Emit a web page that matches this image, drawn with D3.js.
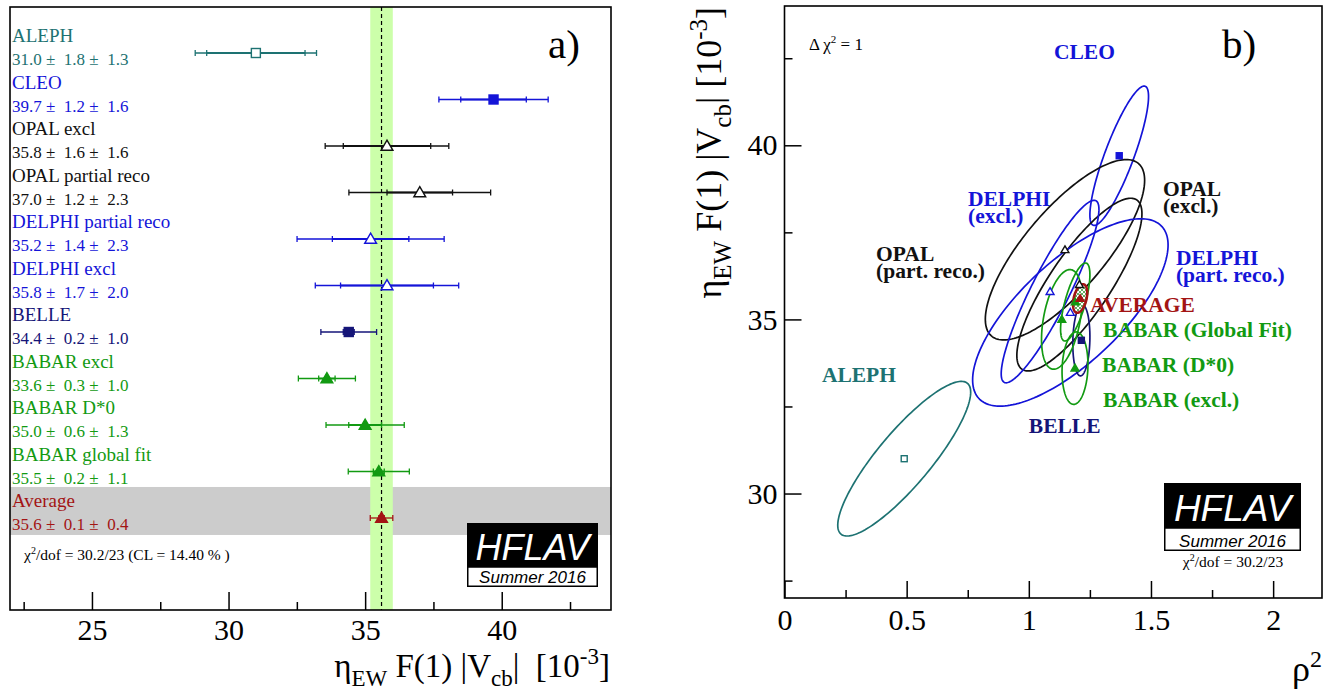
<!DOCTYPE html>
<html><head><meta charset="utf-8">
<script src="https://cdn.jsdelivr.net/npm/d3@7"></script>
<style>
html,body{margin:0;padding:0;background:#fff;}
svg{display:block;}
text{font-family:"Liberation Serif","Times New Roman",serif;white-space:pre;}
</style></head><body>
<svg id="chart" width="1337" height="698"></svg>
<script>
// ---------------- data: panel a ----------------
const expNames   = ["ALEPH","CLEO","OPAL excl","OPAL partial reco","DELPHI partial reco","DELPHI excl","BELLE","BABAR excl","BABAR D*0","BABAR global fit","Average"];
const vcbValues  = [31.0, 39.7, 35.8, 37.0, 35.2, 35.8, 34.4, 33.6, 35.0, 35.5, 35.6];
const statErrors = [1.8, 1.2, 1.6, 1.2, 1.4, 1.7, 0.2, 0.3, 0.6, 0.2, 0.1];
const systErrors = [1.3, 1.6, 1.6, 2.3, 2.3, 2.0, 1.0, 1.0, 1.3, 1.1, 0.4];
const vcbAxisRange = [22, 44];
const vcbTickValues = [25, 30, 35, 40];
const vcbTickLabels = ["25", "30", "35", "40"];
const vcbMinorTicks = [22.5, 27.5, 32.5, 37.5, 42.5];

// ---------------- data: panel b ----------------
const ellipseNames = ["ALEPH","CLEO","OPAL (part. reco.)","OPAL (excl.)","DELPHI (excl.)","DELPHI (part. reco.)","BELLE","BABAR (Global Fit)","BABAR (D*0)","BABAR (excl.)","AVERAGE"];
const rho2Centers  = [0.49, 1.37, 1.148, 1.207, 1.087, 1.17, 1.215, 1.19, 1.135, 1.189, 1.21];
const vcbCenters   = [31.0, 39.7, 37.0, 36.0, 35.8, 35.2, 34.4, 35.5, 35.0, 33.6, 35.6];
const rho2Sigmas   = [0.272, 0.12, 0.326, 0.256, 0.20, 0.40, 0.035, 0.06, 0.083, 0.053, 0.029];
const vcbSigmas    = [2.22, 2.0, 2.59, 2.48, 2.62, 2.69, 1.02, 1.12, 1.43, 1.04, 0.41];
const correlations = [0.86, 0.85, 0.77, 0.82, 0.90, 0.72, 0.10, 0.70, 0.40, 0.10, 0.40];
const rho2AxisRange = [0, 2.2];
const vcbAxisRangeB = [27, 44];
const rho2TickValues = [0, 0.5, 1, 1.5, 2];
const rho2TickLabels = ["0", "0.5", "1", "1.5", "2"];
const rho2MinorTicks = [0.25, 0.75, 1.25, 1.75];
const vcbTickValuesB = [30, 35, 40];
const vcbTickLabelsB = ["30", "35", "40"];
const vcbMinorTicksB = [27.5, 32.5, 37.5, 42.5];

// ---------------- styles / layout ----------------
const COL = {teal:"#1d7272", blue:"#1414d8", black:"#111111", navy:"#151578", green:"#129a12", red:"#a31414"};
function colorOf(name){
  const n = name.toUpperCase();
  if (n.startsWith("ALEPH")) return COL.teal;
  if (n.startsWith("CLEO") || n.startsWith("DELPHI")) return COL.blue;
  if (n.startsWith("OPAL")) return COL.black;
  if (n.startsWith("BELLE")) return COL.navy;
  if (n.startsWith("BABAR")) return COL.green;
  return COL.red;
}
const markerStyleA = {
  "ALEPH":"openSquare","CLEO":"square","OPAL excl":"openTri","OPAL partial reco":"openTri",
  "DELPHI partial reco":"openTri","DELPHI excl":"openTri","BELLE":"square","BABAR excl":"tri",
  "BABAR D*0":"tri","BABAR global fit":"tri","Average":"tri"
};
const markerStyleB = {
  "ALEPH":"openSquare","CLEO":"square","OPAL (part. reco.)":"openTri","OPAL (excl.)":"openTri",
  "DELPHI (excl.)":"openTri","DELPHI (part. reco.)":"openTri","BELLE":"square",
  "BABAR (Global Fit)":"tri","BABAR (D*0)":"tri","BABAR (excl.)":"tri","AVERAGE":"tri"
};
// label anchor positions in panel-b data coordinates [rho2, vcb]
const labelLayoutB = {
  "CLEO":[1.103,42.49], "DELPHI (excl.)":[0.751,38.27], "OPAL (excl.)":[1.549,38.55],
  "OPAL (part. reco.)":[0.375,36.69], "DELPHI (part. reco.)":[1.602,36.57],
  "AVERAGE":[1.251,35.22], "BABAR (Global Fit)":[1.304,34.50], "BABAR (D*0)":[1.300,33.49],
  "BABAR (excl.)":[1.304,32.49], "BELLE":[1.000,31.74], "ALEPH":[0.153,33.21]
};
const twoLine = {"DELPHI (excl.)":["DELPHI","(excl.)"], "OPAL (excl.)":["OPAL","(excl.)"],
  "OPAL (part. reco.)":["OPAL","(part. reco.)"], "DELPHI (part. reco.)":["DELPHI","(part. reco.)"]};

const svg = d3.select("#chart");
svg.append("rect").attr("width",1337).attr("height",698).attr("fill","#fff");
const defs = svg.append("defs");
const pat = defs.append("pattern").attr("id","avgHatch").attr("patternUnits","userSpaceOnUse")
  .attr("width",4).attr("height",4);
pat.append("rect").attr("width",4).attr("height",4).attr("fill","#ffffff");
pat.append("path").attr("d","M0,4 L4,0 M0,0 L4,4").attr("stroke","#3a9a3a").attr("stroke-width",0.8);

function drawMarker(g, type, x, y, color, s){
  if (type === "openSquare" || type === "square"){
    g.append("rect").attr("x", x - s/2).attr("y", y - s/2).attr("width", s).attr("height", s)
      .attr("fill", type === "square" ? color : "#fff").attr("stroke", color).attr("stroke-width", 1.4);
  } else {
    const sym = d3.symbol().type(d3.symbolTriangle).size(s*s*0.75);
    g.append("path").attr("d", sym()).attr("transform", `translate(${x},${y + s*0.1})`)
      .attr("fill", type === "tri" ? color : "#fff").attr("stroke", color).attr("stroke-width", 1.4);
  }
}

function drawLogo(x, y, w, h1, h2, fs1, fs2){
  const g = svg.append("g");
  g.append("rect").attr("x",x).attr("y",y).attr("width",w).attr("height",h1).attr("fill","#000");
  g.append("rect").attr("x",x+0.75).attr("y",y+h1).attr("width",w-1.5).attr("height",h2-0.75)
    .attr("fill","#fff").attr("stroke","#000").attr("stroke-width",1.5);
  g.append("text").attr("x",x+w/2).attr("y",y+h1-7).attr("text-anchor","middle")
    .style("font-family","'Liberation Sans',Arial,sans-serif").style("font-style","italic")
    .attr("font-size",fs1).attr("fill","#fff").text("HFLAV");
  g.append("text").attr("x",x+w/2).attr("y",y+h1+h2-4).attr("text-anchor","middle")
    .style("font-family","'Liberation Sans',Arial,sans-serif").style("font-style","italic")
    .attr("font-size",fs2).attr("fill","#000").text("Summer 2016");
}
function styleAxis(ax, fs){
  ax.attr("font-family","Liberation Serif");
  ax.select(".domain").remove();
  ax.selectAll(".tick line").attr("stroke","#000").attr("stroke-width",1.5);
  ax.selectAll(".tick text").attr("font-size",fs).attr("fill","#000")
    .style("font-family","'Liberation Serif',serif");
}

// ================= PANEL A =================
const A = {left:10, right:611, top:7, bottom:610};
const xA = d3.scaleLinear().domain(vcbAxisRange).range([A.left, A.right]);
const yA = d3.scalePoint().domain(expNames).range([53, 518]);
const gA = svg.append("g");
const stepA = yA.step();

// grey band for average row
const avgIdx = expNames.indexOf("Average");
gA.append("rect").attr("x", A.left).attr("width", A.right - A.left)
  .attr("y", yA("Average") - 0.667*stepA).attr("height", 1.032*stepA).attr("fill", "#cccccc");

// green band of the average
const avgTot = Math.hypot(statErrors[avgIdx], systErrors[avgIdx]);
gA.append("rect").attr("x", xA(vcbValues[avgIdx] - avgTot)).attr("y", A.top)
  .attr("width", xA(vcbValues[avgIdx] + avgTot) - xA(vcbValues[avgIdx] - avgTot))
  .attr("height", A.bottom - A.top).attr("fill", "#ccffaa");
gA.append("line").attr("x1", xA(vcbValues[avgIdx])).attr("x2", xA(vcbValues[avgIdx]))
  .attr("y1", A.top).attr("y2", A.bottom).attr("stroke", "#000").attr("stroke-width", 1.2)
  .attr("stroke-dasharray", "4,3");

// axis
const axA = gA.append("g").attr("transform", `translate(0,${A.bottom})`)
  .call(d3.axisBottom(xA).tickValues(vcbTickValues).tickFormat((d,i)=>vcbTickLabels[i]).tickSize(-18).tickPadding(9));
styleAxis(axA, 30);
const axAm = gA.append("g").attr("transform", `translate(0,${A.bottom})`)
  .call(d3.axisBottom(xA).tickValues(vcbMinorTicks).tickFormat("").tickSize(-8));
styleAxis(axAm, 30);

// rows
expNames.forEach((name, i) => {
  const v = vcbValues[i], s = statErrors[i], sy = systErrors[i];
  const tot = Math.hypot(s, sy);
  const y = yA(name), c = colorOf(name);
  const g = gA.append("g");
  g.append("line").attr("x1", xA(v - tot)).attr("x2", xA(v + tot)).attr("y1", y).attr("y2", y)
    .attr("stroke", c).attr("stroke-width", 1.3);
  g.append("line").attr("x1", xA(v - s)).attr("x2", xA(v + s)).attr("y1", y).attr("y2", y)
    .attr("stroke", c).attr("stroke-width", 1.8);
  [v - tot, v - s, v + s, v + tot].forEach(e => {
    g.append("line").attr("x1", xA(e)).attr("x2", xA(e)).attr("y1", y - 3).attr("y2", y + 3)
      .attr("stroke", c).attr("stroke-width", 1.3);
  });
  drawMarker(g, markerStyleA[name], xA(v), y, c, 9);
  g.append("text").attr("x", 12).attr("y", y - 11).attr("font-size", 19).attr("fill", c).text(name);
  const p = d => (d < 10 ? " " : "") + d.toFixed(1);
  g.append("text").attr("x", 12).attr("y", y + 12).attr("font-size", 17).attr("fill", c)
    .text(`${v.toFixed(1)} ± ${p(s)} ± ${p(sy)}`);
});

// chi2 text
const chiA = gA.append("text").attr("x", 24).attr("y", 560).attr("font-size", 15.5).attr("fill", "#000");
chiA.append("tspan").text("χ");
chiA.append("tspan").attr("dy", -6).attr("font-size", 10).text("2");
chiA.append("tspan").attr("dy", 6).text("/dof = 30.2/23 (CL = 14.40 % )");

// a)
gA.append("text").attr("x", 548).attr("y", 58).attr("font-size", 41).attr("fill", "#000").text("a)");

drawLogo(467, 523, 131, 44, 20, 36, 17);

// frame
gA.append("rect").attr("x", A.left).attr("y", A.top).attr("width", A.right - A.left).attr("height", A.bottom - A.top)
  .attr("fill", "none").attr("stroke", "#000").attr("stroke-width", 1.6);

// x label
const xlA = gA.append("text").attr("x", 610).attr("y", 677).attr("text-anchor", "end").attr("font-size", 33).attr("fill", "#000");
xlA.append("tspan").text("η");
xlA.append("tspan").attr("dy", 9).attr("font-size", 23).text("EW");
xlA.append("tspan").attr("dy", -9).text(" F(1) |V");
xlA.append("tspan").attr("dy", 9).attr("font-size", 23).text("cb");
xlA.append("tspan").attr("dy", -9).text("|  [10");
xlA.append("tspan").attr("dy", -13).attr("font-size", 23).text("-3");
xlA.append("tspan").attr("dy", 13).text("]");

// ================= PANEL B =================
const B = {left:784.5, right:1322, top:6, bottom:598};
const xB = d3.scaleLinear().domain(rho2AxisRange).range([B.left, B.right]);
const yB = d3.scaleLinear().domain(vcbAxisRangeB).range([B.bottom, B.top]);
const gB = svg.append("g");

const axBx = gB.append("g").attr("transform", `translate(0,${B.bottom})`)
  .call(d3.axisBottom(xB).tickValues(rho2TickValues).tickFormat((d,i)=>rho2TickLabels[i]).tickSize(-17).tickPadding(11));
styleAxis(axBx, 30);
const axBxm = gB.append("g").attr("transform", `translate(0,${B.bottom})`)
  .call(d3.axisBottom(xB).tickValues(rho2MinorTicks).tickFormat("").tickSize(-8));
styleAxis(axBxm, 30);
const axBy = gB.append("g").attr("transform", `translate(${B.left},0)`)
  .call(d3.axisLeft(yB).tickValues(vcbTickValuesB).tickFormat((d,i)=>vcbTickLabelsB[i]).tickSize(-17).tickPadding(7));
styleAxis(axBy, 30);
const axBym = gB.append("g").attr("transform", `translate(${B.left},0)`)
  .call(d3.axisLeft(yB).tickValues(vcbMinorTicksB).tickFormat("").tickSize(-8));
styleAxis(axBym, 30);

// ellipses
const ellLine = d3.line().x(d => xB(d[0])).y(d => yB(d[1])).curve(d3.curveLinearClosed);
const NPTS = 180;
ellipseNames.forEach((name, i) => {
  const x0 = rho2Centers[i], y0 = vcbCenters[i], sx = rho2Sigmas[i], sy = vcbSigmas[i], r = correlations[i];
  const pts = d3.range(NPTS).map(k => {
    const t = 2*Math.PI*k/NPTS;
    return [x0 + sx*Math.cos(t), y0 + sy*(r*Math.cos(t) + Math.sqrt(1 - r*r)*Math.sin(t))];
  });
  const c = colorOf(name);
  const isAvg = name === "AVERAGE";
  gB.append("path").attr("d", ellLine(pts)).attr("fill", isAvg ? "url(#avgHatch)" : "none").attr("stroke", c)
    .attr("stroke-width", isAvg ? 2.6 : 1.7);
});
ellipseNames.forEach((name, i) => {
  drawMarker(gB, markerStyleB[name], xB(rho2Centers[i]), yB(vcbCenters[i]), colorOf(name), 6);
});

// labels
ellipseNames.forEach(name => {
  const pos = labelLayoutB[name];
  const lines = twoLine[name] || [name];
  const t = gB.append("text").attr("x", xB(pos[0])).attr("y", yB(pos[1]))
    .attr("font-size", 21.5).attr("font-weight", "bold").attr("fill", colorOf(name));
  lines.forEach((ln, k) => {
    t.append("tspan").attr("x", xB(pos[0])).attr("dy", k === 0 ? 0 : 17).text(ln);
  });
});

// delta chi2
const dchi = gB.append("text").attr("x", 809).attr("y", 50).attr("font-size", 17).attr("fill", "#000");
dchi.append("tspan").text("Δ χ");
dchi.append("tspan").attr("dy", -7).attr("font-size", 11).text("2");
dchi.append("tspan").attr("dy", 7).text(" = 1");

gB.append("text").attr("x", 1222).attr("y", 58).attr("font-size", 41).attr("fill", "#000").text("b)");

drawLogo(1164, 483, 137, 45, 23, 37, 17);
const chiB = gB.append("text").attr("x", 1233).attr("y", 567).attr("text-anchor", "middle").attr("font-size", 15.5).attr("fill", "#000");
chiB.append("tspan").text("χ");
chiB.append("tspan").attr("dy", -6).attr("font-size", 10).text("2");
chiB.append("tspan").attr("dy", 6).text("/dof = 30.2/23");

gB.append("rect").attr("x", B.left).attr("y", B.top).attr("width", B.right - B.left).attr("height", B.bottom - B.top)
  .attr("fill", "none").attr("stroke", "#000").attr("stroke-width", 1.6);

// axis titles
const xlB = gB.append("text").attr("x", 1322).attr("y", 681).attr("text-anchor", "end").attr("font-size", 36).attr("fill", "#000");
xlB.append("tspan").text("ρ");
xlB.append("tspan").attr("dy", -14).attr("font-size", 24).text("2");

const ylB = gB.append("text").attr("transform", "translate(721,7) rotate(-90)").attr("text-anchor", "end")
  .attr("font-size", 36).attr("fill", "#000");
ylB.append("tspan").text("η");
ylB.append("tspan").attr("dy", 10).attr("font-size", 25).text("EW");
ylB.append("tspan").attr("dy", -10).text(" F(1) |V");
ylB.append("tspan").attr("dy", 10).attr("font-size", 25).text("cb");
ylB.append("tspan").attr("dy", -10).text("| [10");
ylB.append("tspan").attr("dy", -14).attr("font-size", 25).text("-3");
ylB.append("tspan").attr("dy", 14).text("]");
</script>
</body></html>
